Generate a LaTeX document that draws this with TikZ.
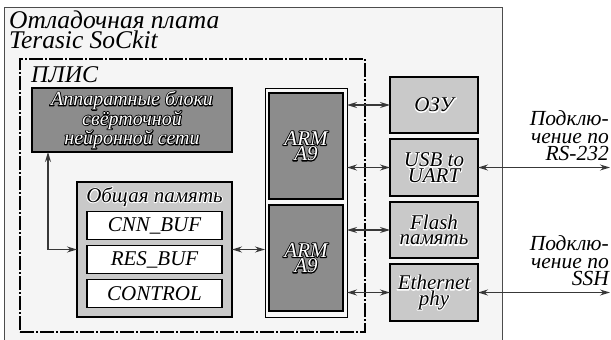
\documentclass[tikz,border=0pt]{standalone}
\usepackage{fontspec}
\setmainfont{Liberation Serif}
\usepackage{xcolor}
\usepackage{tikz}
\usetikzlibrary{arrows.meta,positioning}

\definecolor{boardbg}{gray}{0.96}
\definecolor{darkfill}{gray}{0.55}
\definecolor{lightfill}{gray}{0.79}
\definecolor{wire}{gray}{0.22}
% outlined text: a stroked copy under the filled one
\newcommand{\strk}[2]{\rlap{\textcolor{#1}{\special{pdf:literal direct 1 Tr 1.9 w 1 j}#2\special{pdf:literal direct 0 Tr}}}}
\newcommand{\outl}[1]{\strk{black}{#1}\textcolor{white}{#1}}
\newcommand{\halo}[1]{\strk{white}{#1}#1}

\begin{document}
\begin{tikzpicture}[
  x=1pt, y=-1pt,
  node distance=6pt,
  lbl/.style={font=\fontsize{21}{15.5}\selectfont\itshape, align=center, inner sep=0pt},
  ru/.style={font=\fontsize{20}{15.5}\selectfont\itshape},
  box/.style={lbl, draw, line width=1.8pt, outer sep=0pt},
  dark/.style={box, fill=darkfill},
  light/.style={box, fill=lightfill},
  buf/.style={box, fill=white, minimum width=135pt, minimum height=28pt},
  periph/.style={light, minimum width=88pt, minimum height=56.5pt},
  core/.style={dark, minimum width=74pt, minimum height=106pt},
  extlbl/.style={lbl, align=right, font=\fontsize{21.5}{17.5}\selectfont\itshape},
  arrow/.style={{Stealth[length=10pt,width=6pt]}-{Stealth[length=10pt,width=6pt]}, line width=1.3pt, draw=wire}
]
\useasboundingbox (0,0) rectangle (611,340);

% board and FPGA frames
\node[draw=black!70, line width=1pt, fill=boardbg, minimum width=498pt, minimum height=345pt, anchor=north west, outer sep=0pt] (board) at (4,7) {};
\node[lbl, anchor=north west, align=left, font=\fontsize{25.5}{20}\selectfont\itshape] (board-title) at (9,11) {Отладочная плата\\Terasic SoCkit};
\node[draw, line width=1.8pt, dash pattern=on 14pt off 2pt on 2pt off 2pt, minimum width=345pt, minimum height=273pt, anchor=north west, outer sep=0pt] (plis) at (20,59) {};
\node[lbl, anchor=north west, font=\fontsize{24}{20}\selectfont\itshape] (plis-title) at (31,66) {ПЛИС};

% FPGA contents
\node[dark, ru, minimum width=200pt, minimum height=64pt] (hw) at (132,120) {\outl{Аппаратные блоки}\\\outl{свёрточной}\\\outl{нейронной сети}};
\node[light, minimum width=155pt, minimum height=135pt] (shm) at (154.5,249.5) {};
\node[lbl, anchor=north, yshift=-5pt] (shm-title) at (shm.north) {\halo{Общая память}};
\node[buf] (cnn) at (154.5,225.5) {CNN\_BUF};
\node[buf, below=of cnn] (res) {RES\_BUF};
\node[buf, below=of res] (ctrl) {CONTROL};

% HPS
\node[draw, line width=0.8pt, fill=white!97!black, minimum width=82pt, minimum height=229pt, outer sep=0pt] (cpu) at (306,202.5) {};
\node[core] (arm1) at (306,146) {\outl{ARM}\\\outl{A9}};
\node[core, below=of arm1] (arm2) {\outl{ARM}\\\outl{A9}};

% peripherals
\node[periph] (ram) at (434,105) {\halo{ОЗУ}};
\node[periph, below=of ram] (uart) {\halo{USB to}\\\halo{UART}};
\node[periph, below=of uart] (flash) {\halo{Flash}\\\halo{память}};
\node[periph, below=of flash] (eth) {\halo{Ethernet}\\\halo{phy}};

\coordinate (hw-port) at ([xshift=16pt]hw.south west);
\draw[arrow] (hw-port) |- (shm.west);
\draw[arrow] (shm.east) -- (shm.east -| cpu.west);
\draw[arrow] (cpu.east |- ram.west) -- (ram.west);
\draw[arrow] (cpu.east |- uart.west) -- (uart.west);
\draw[arrow] (cpu.east |- flash.west) -- (flash.west);
\draw[arrow] (cpu.east |- eth.west) -- (eth.west);

% external links
\coordinate (rs232) at (610,167.5);
\coordinate (ssh) at (610,292.5);
\draw[arrow] (uart.east) -- (rs232);
\draw[arrow] (eth.east) -- (ssh);
\node[extlbl, anchor=south east] (rs-lbl) at (609,161) {Подклю-\\чение по\\RS-232};
\node[extlbl, anchor=south east] (ssh-lbl) at (609,286) {Подклю-\\чение по\\SSH};
\end{tikzpicture}
\end{document}
